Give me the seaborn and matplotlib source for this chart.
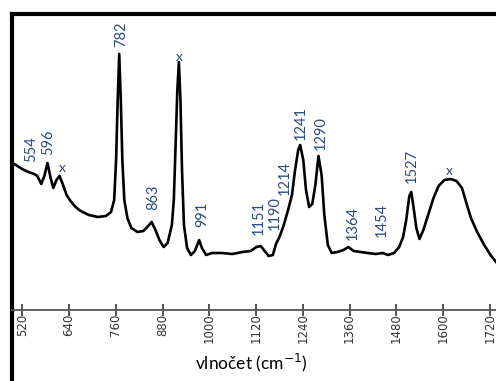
import seaborn as sns
import matplotlib.pyplot as plt
import pandas as pd

# Raman spectrum (wavenumber in cm-1, intensity in arbitrary units)
wavenumber = [494, 504, 520, 536, 551, 559, 569, 577, 585, 593, 600, 608, 616, 624, 634,
              644, 657, 670, 691, 714, 735, 748, 756, 761, 765, 769, 773, 777, 782, 790,
              800, 816, 831, 841, 852, 862, 872, 883, 893, 904, 909, 914, 918, 922, 926,
              930, 935, 943, 953, 963, 974, 981, 992, 1007, 1033, 1059, 1085, 1106, 1121,
              1132, 1142, 1152, 1163, 1171, 1181, 1191, 1202, 1212, 1220, 1228, 1233, 1241,
              1248, 1256, 1264, 1272, 1280, 1288, 1295, 1304, 1314, 1329, 1344, 1357, 1370,
              1388, 1406, 1427, 1445, 1458, 1474, 1487, 1497, 1505, 1513, 1518, 1523, 1531,
              1539, 1549, 1562, 1575, 1588, 1603, 1619, 1634, 1648, 1660, 1671, 1687, 1705,
              1723, 1746]
intensity = [147, 145, 141, 138, 136, 134, 126, 134, 147, 132, 122, 130, 134, 126, 115,
             109, 103, 99, 95, 93, 94, 98, 110, 150, 210, 256, 210, 150, 110, 92,
             82, 78, 79, 83, 88, 80, 70, 63, 67, 85, 110, 170, 220, 248, 210,
             140, 85, 62, 55, 59, 70, 62, 55, 57, 57, 56, 58, 59, 63,
             64, 59, 54, 55, 66, 74, 85, 100, 115, 140, 160, 165, 150,
             120, 103, 106, 125, 154, 135, 95, 65, 57, 58, 60, 63, 59,
             58, 57, 56, 57, 55, 57, 63, 73, 90, 114, 118, 105, 82,
             71, 80, 96, 112, 124, 130, 131, 129, 122, 106, 92, 78, 65,
             54, 43]

# peak annotations
peak_labels = ["554", "596", "x", "782", "x", "863", "991", "1151", "1190", "1214",
               "1241", "1290", "1364", "1454", "1527", "x"]
peak_pos = [543, 587, 624, 774, 922, 857, 981, 1127, 1168, 1194, 1235, 1287, 1368, 1443, 1518, 1616]
peak_height = [148, 155, 142, 263, 253, 100, 83, 75, 80, 115, 170, 160, 70, 73, 127, 139]

ticks = [520, 640, 760, 880, 1000, 1120, 1240, 1360, 1480, 1600, 1720]

df = pd.DataFrame({"wn": wavenumber, "I": intensity})

sns.set_theme(style="white")
plt.rcParams["font.family"] = ["DejaVu Sans"]

fig = plt.figure(figsize=(4.96, 3.81), dpi=100)
ax = fig.add_axes([12 / 496, 0, 1 - 12 / 496 + 0.01, 367 / 381])

sns.lineplot(data=df, x="wn", y="I", color="black", lw=1.9, ax=ax)

txt_color = "#2b4a85"
for lab, xp, yp in zip(peak_labels, peak_pos, peak_height):
    if lab == "x":
        ax.text(xp, yp, lab, color=txt_color, fontsize=10, ha="center", va="center",
                family="Lato")
    else:
        ax.text(xp, yp, lab, color=txt_color, fontsize=10.5, rotation=90,
                ha="center", va="bottom", family="Lato")

ax.set_xlim(494, 1748)
ax.set_ylim(-71, 296)
ax.set_xticks(ticks)
ax.set_xticklabels([str(t) for t in ticks])
ax.set_yticks([])
ax.set_xlabel("")
ax.set_ylabel("")

ax.spines["bottom"].set_position(("data", 0))
ax.spines["bottom"].set_color("#555555")
ax.spines["bottom"].set_linewidth(1.3)
ax.spines["right"].set_visible(False)
ax.spines["top"].set_color("black")
ax.spines["top"].set_linewidth(3)
ax.spines["left"].set_color("black")
ax.spines["left"].set_linewidth(3)
ax.tick_params(axis="x", direction="inout", length=9, width=1.3, color="#444444",
               pad=-2, bottom=True, labelrotation=90, labelsize=8.5, labelcolor="#333333")

ax.text(0.49, 0.05, "vlnočet (cm$^{-1}$)", transform=ax.transAxes, ha="center",
        va="center", fontsize=12.5, family="Lato", color="black")

fig.savefig("out.png", dpi=100)
